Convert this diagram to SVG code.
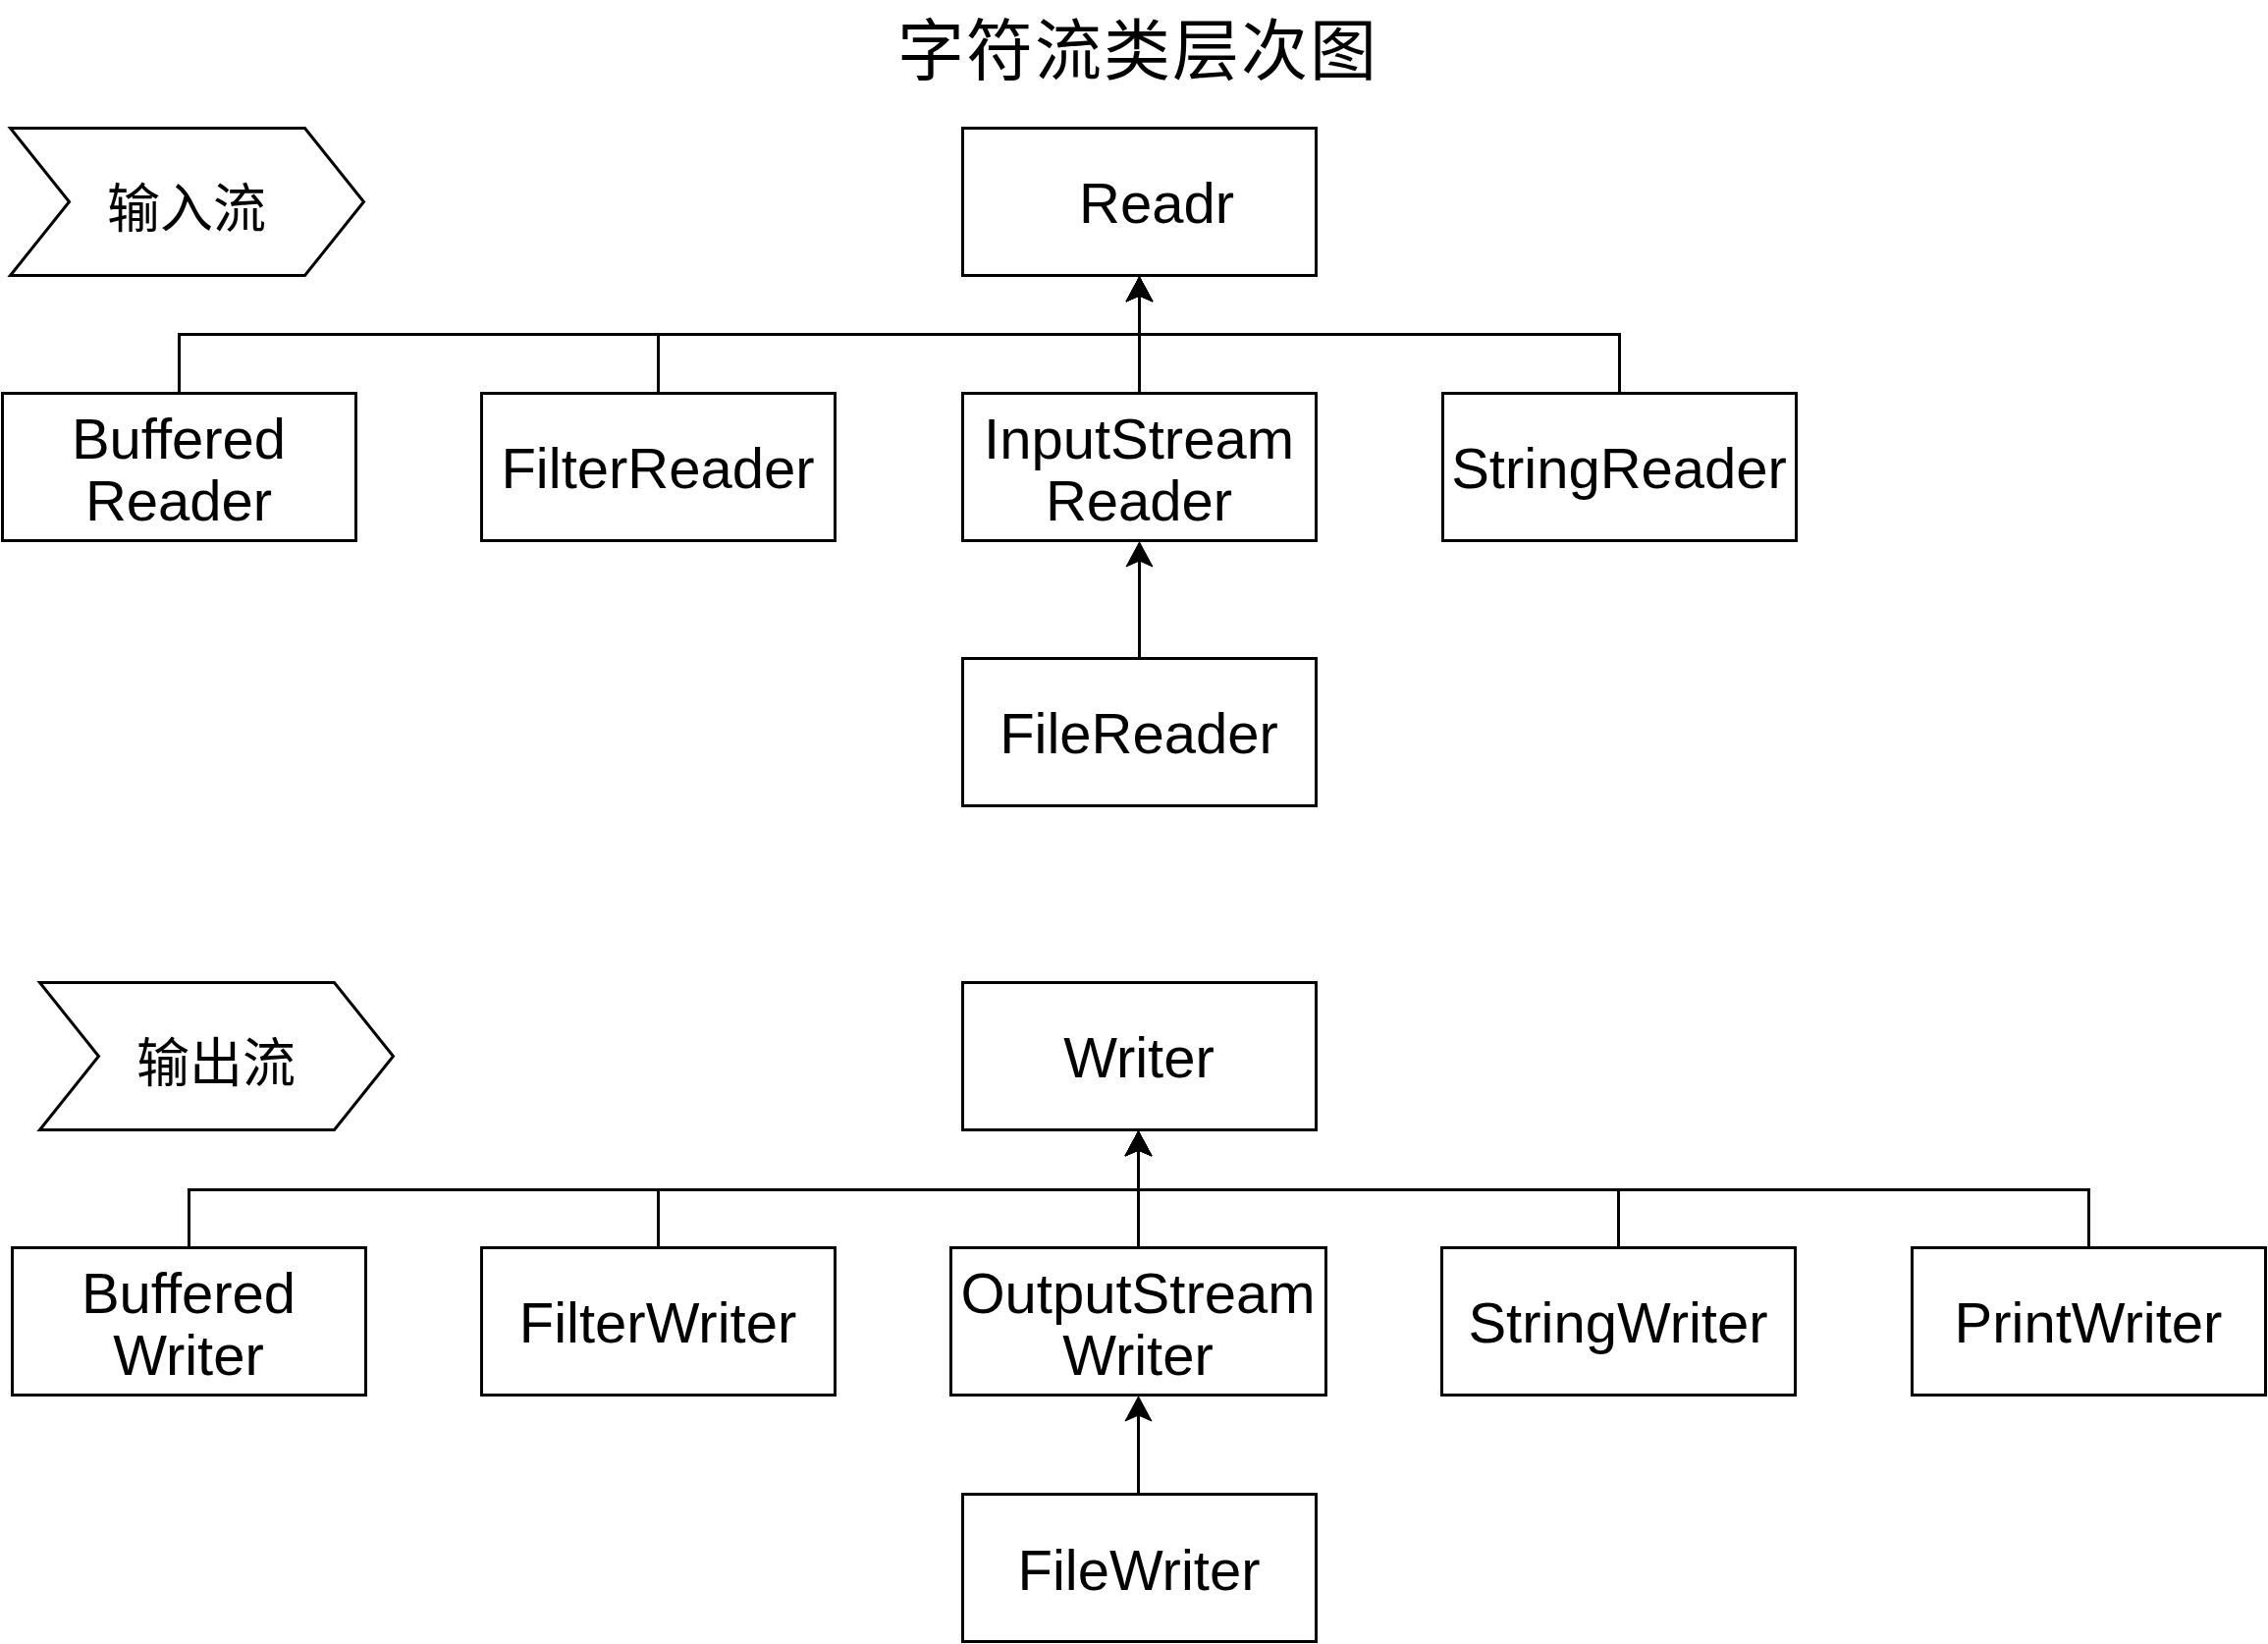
<svg xmlns="http://www.w3.org/2000/svg" width="2310" height="1674" viewBox="0 0 2310 1674">
<style>
.box{fill:#fff;stroke:#000;stroke-width:3}
.lbl{font-family:"Liberation Sans",Arial,sans-serif;font-size:58px;text-anchor:middle;fill:#000}
.cjk{font-family:"Noto Sans CJK SC",sans-serif;text-anchor:middle;dominant-baseline:central;fill:#000}
.edge{fill:none;stroke:#000;stroke-width:3;marker-end:url(#arr)}
</style>
<defs>
<marker id="arr" markerUnits="userSpaceOnUse" viewBox="-26 -15 28 30" markerWidth="28" markerHeight="30" refX="-10" refY="0" orient="auto">
<path d="M0,0 L-25,-13.5 L-19,0 L-25,13.5 Z" fill="#000" stroke="#000" stroke-width="1"/>
</marker>
</defs>
<rect width="2310" height="1674" fill="#fff"/>
<text id="title" class="cjk" x="1159" y="46" font-size="68" letter-spacing="2">字符流类层次图</text>

<g id="connectors">
<path class="edge" d="M182.5,400 V340.5 H1160.5 V292"/>
<path class="edge" d="M670.5,400 V340.5 H1160.5 V292"/>
<path class="edge" d="M1160.5,400 V292"/>
<path class="edge" d="M1649.5,400 V340.5 H1160.5 V292"/>
<path class="edge" d="M1160.5,670 V562"/>
<path class="edge" d="M192.5,1270 V1211.5 H1159.5 V1162"/>
<path class="edge" d="M670.5,1270 V1211.5 H1159.5 V1162"/>
<path class="edge" d="M1159.5,1270 V1162"/>
<path class="edge" d="M1648.5,1270 V1211.5 H1159.5 V1162"/>
<path class="edge" d="M2127.5,1270 V1211.5 H1159.5 V1162"/>
<path class="edge" d="M1159.5,1522 V1432"/>
</g>

<g id="input-stream">
<polygon class="box" points="10.5,130.5 310.5,130.5 370.5,205.5 310.5,280.5 10.5,280.5 70.5,205.5"/>
<text class="cjk" x="190" y="208" font-size="54">输入流</text>
</g>
<g id="output-stream">
<polygon class="box" points="40.5,1000.5 340.5,1000.5 400.5,1075.5 340.5,1150.5 40.5,1150.5 100.5,1075.5"/>
<text class="cjk" x="220" y="1078" font-size="54">输出流</text>
</g>

<g id="reader">
<rect class="box" x="980.5" y="130.5" width="360" height="150"/>
<text class="lbl" x="1178" y="227">Readr</text>
</g>
<g id="buffered-reader">
<rect class="box" x="2.5" y="400.5" width="360" height="150"/>
<text class="lbl"><tspan x="182" y="467">Buffered</tspan><tspan x="182" y="530">Reader</tspan></text>
</g>
<g id="filter-reader">
<rect class="box" x="490.5" y="400.5" width="360" height="150"/>
<text class="lbl" x="670" y="497">FilterReader</text>
</g>
<g id="inputstream-reader">
<rect class="box" x="980.5" y="400.5" width="360" height="150"/>
<text class="lbl"><tspan x="1160" y="467">InputStream</tspan><tspan x="1160" y="530">Reader</tspan></text>
</g>
<g id="string-reader">
<rect class="box" x="1469.5" y="400.5" width="360" height="150"/>
<text class="lbl" x="1649" y="497">StringReader</text>
</g>
<g id="file-reader">
<rect class="box" x="980.5" y="670.5" width="360" height="150"/>
<text class="lbl" x="1160" y="767">FileReader</text>
</g>

<g id="writer">
<rect class="box" x="980.5" y="1000.5" width="360" height="150"/>
<text class="lbl" x="1160" y="1097">Writer</text>
</g>
<g id="buffered-writer">
<rect class="box" x="12.5" y="1270.5" width="360" height="150"/>
<text class="lbl"><tspan x="192" y="1337">Buffered</tspan><tspan x="192" y="1400">Writer</tspan></text>
</g>
<g id="filter-writer">
<rect class="box" x="490.5" y="1270.5" width="360" height="150"/>
<text class="lbl" x="670" y="1367">FilterWriter</text>
</g>
<g id="outputstream-writer">
<rect class="box" x="968.5" y="1270.5" width="382" height="150"/>
<text class="lbl"><tspan x="1159" y="1337">OutputStream</tspan><tspan x="1159" y="1400">Writer</tspan></text>
</g>
<g id="string-writer">
<rect class="box" x="1468.5" y="1270.5" width="360" height="150"/>
<text class="lbl" x="1648" y="1367">StringWriter</text>
</g>
<g id="print-writer">
<rect class="box" x="1947.5" y="1270.5" width="360" height="150"/>
<text class="lbl" x="2127" y="1367">PrintWriter</text>
</g>
<g id="file-writer">
<rect class="box" x="980.5" y="1521.5" width="360" height="150"/>
<text class="lbl" x="1160" y="1619">FileWriter</text>
</g>
</svg>
